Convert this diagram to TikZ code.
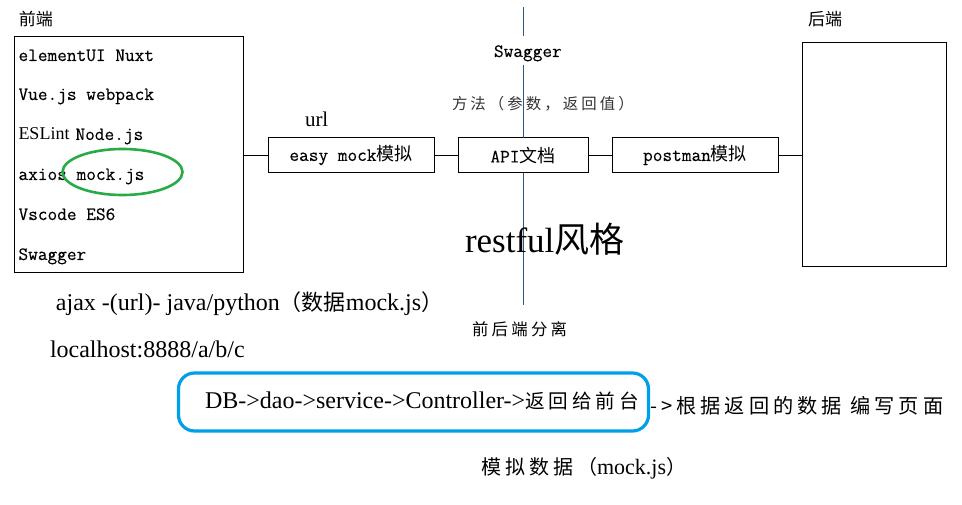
\documentclass[tikz,border=0pt]{standalone}
\usepackage{fontspec}
\usetikzlibrary{shapes.geometric}
\setmainfont{Liberation Serif}
\setmonofont[FakeBold=0.3]{Latin Modern Mono}
\newfontfamily\cjk{Noto Sans CJK SC}
\newfontfamily\cjkls[LetterSpace=20]{Noto Sans CJK SC}
\newcommand\cjkat[1]{\cjk\fontsize{#1}{#1}\selectfont}
\newcommand\cjklsat[1]{\cjkls\fontsize{#1}{#1}\selectfont}
\newcommand\serifat[1]{\rmfamily\fontsize{#1}{#1}\selectfont}
\definecolor{linkblue}{RGB}{0,160,233}
\definecolor{circlegreen}{RGB}{40,170,70}
\definecolor{divblue}{RGB}{47,84,125}
\begin{document}
\begin{tikzpicture}[x=1pt,y=-1pt,
  every node/.style={inner sep=0pt, outer sep=0pt},
  frame/.style={draw=black, line width=1pt},
  mono/.style={font=\fontsize{18.8}{20}\ttfamily},
  link/.style={draw=black, line width=1pt},
  divider/.style={draw=divblue, line width=1pt},
  txt/.style={anchor=base west}]
\useasboundingbox (0,0) rectangle (962,505);

% vertical divider
\coordinate (v0) at (523,7.5);
\coordinate (v1) at (523,36);
\coordinate (v2) at (523,65);
\coordinate (v3) at (523,305);

% front-end box
\node[txt, font=\cjkat{17}] (felabel) at (19,25.5) {前端};
\node[frame, anchor=north west, minimum width=229pt, minimum height=236pt] (fe) at (14,37) {};
\node[txt, mono] (r1) at (18.5,61) {elementUI Nuxt};
\node[txt, mono] (r2) at (18.5,100) {Vue.js webpack};
\node[txt, mono] (r3) at (18.5,140) {{\serifat{18}ESLint}\hspace{6pt}Node.js};
\node[txt, mono] (r4) at (18.5,180) {axios mock.js};
\node[txt, mono] (r5) at (18.5,220) {Vscode ES6};
\node[txt, mono] (r6) at (18.5,260) {Swagger};
\node[draw=circlegreen, line width=2.6pt, ellipse, minimum width=120pt, minimum height=46pt] (mk) at (122.5,172) {};

% back-end box
\node[txt, font=\cjkat{17}] (belabel) at (808,25.5) {后端};
\node[frame, anchor=north west, minimum width=144pt, minimum height=224pt] (be) at (802,43) {};

% middle boxes
\node[frame, mono, minimum width=166pt, minimum height=35pt] (easy) at (351,155.5) {easy mock{\cjkat{18}模拟}};
\node[frame, mono, minimum width=130pt, minimum height=35pt] (api) at (523,155.5) {API{\cjkat{18}文档}};
\node[frame, mono, minimum width=166pt, minimum height=35pt] (postman) at (695,155.5) {postman{\cjkat{18}模拟}};

\draw[divider] (v0) -- (v1);
\draw[divider] (v2) -- (api.north);
\draw[divider] (api.south) -- (v3);

\draw[link] (easy.west -| fe.east) -- (easy.west);
\draw[link] (easy.east) -- (api.west);
\draw[link] (api.east) -- (postman.west);
\draw[link] (postman.east) -- (postman.east -| be.west);

% labels around the middle
\node[txt, mono] (swagger) at (494,57) {Swagger};
\node[txt, font=\cjklsat{15.4}, text=black!80] (method) at (452,109.7) {方法（参数，返回值）};
\node[txt, font=\serifat{21}] (url) at (305,127) {url};
\node[txt, font=\serifat{35}] (restful) at (465,253) {restful{\cjkat{35}风格}};
\node[txt, font=\cjklsat{16.4}] (sep) at (472,336) {前后端分离};

% bottom texts
\node[txt, font=\serifat{24}] (ajax) at (56,311) {ajax -(url)- java/python{\cjkat{22}（数据}mock.js{\cjkat{22}）}};
\node[txt, font=\serifat{24}] (local) at (50,358) {localhost:8888/a/b/c};
\node[draw=linkblue, line width=3.2pt, rounded corners=16pt, minimum width=470pt, minimum height=58pt] (dbbox) at (413.5,402) {};
\node[txt, font=\serifat{24}] (db) at (205,408) {DB->dao->service->Controller->{\cjklsat{19.6}返回给前台}};
\node[txt, font=\cjklsat{20.2}] (page) at (650,413.6) {->根据返回的数据 编写页面};
\node[txt, font=\cjklsat{20}] (mockdata) at (481,474.6) {模拟数据（{\serifat{22}mock.js}）};
\end{tikzpicture}
\end{document}
